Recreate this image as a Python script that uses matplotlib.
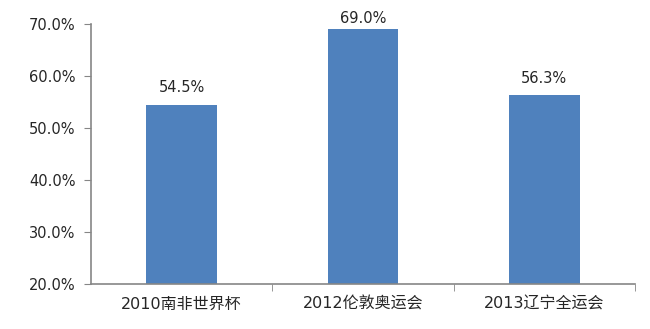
import matplotlib
matplotlib.use("Agg")
import matplotlib.pyplot as plt
from matplotlib.ticker import FuncFormatter, FixedLocator

plt.rcParams['font.family'] = ['DejaVu Sans', 'Noto Sans CJK SC']

categories = ["2010南非世界杯", "2012伦敦奥运会", "2013辽宁全运会"]
values = [54.5, 69.0, 56.3]
y_ticks = [20, 30, 40, 50, 60, 70]

BAR_COLOR = "#4F81BD"
AXIS_COLOR = "#868686"
TEXT_COLOR = "#262626"

fig = plt.figure(figsize=(6.5, 3.29), dpi=100)
ax = fig.add_axes([0.14, 0.137, 0.837, 0.79])

x = list(range(len(categories)))
bars = ax.bar(x, values, width=0.39, color=BAR_COLOR, zorder=2)

ax.set_ylim(20, 70)
ax.set_xlim(-0.5, len(categories) - 0.5)

for rect, v in zip(bars, values):
    # labels near the top of the plot area get pushed down to fit, like Excel does
    off = 7 if v < ax.get_ylim()[1] - 5 else 2
    ax.annotate(f"{v:.1f}%", (rect.get_x() + rect.get_width() / 2, rect.get_height()),
                xytext=(0, off), textcoords="offset points",
                ha="center", va="bottom", fontsize=10.5, color=TEXT_COLOR)

ax.set_yticks(y_ticks)
ax.yaxis.set_major_formatter(FuncFormatter(lambda v, p: f"{v:.1f}%"))

ax.set_xticks(x)
ax.set_xticklabels(categories)
ax.xaxis.set_minor_locator(FixedLocator([i + 0.5 for i in range(len(categories))]))
ax.tick_params(axis="x", which="major", length=0, pad=9, labelsize=11.5, labelcolor=TEXT_COLOR)
ax.tick_params(axis="x", which="minor", length=5, color=AXIS_COLOR, direction="out")
ax.tick_params(axis="y", length=5, color=AXIS_COLOR, direction="out", labelsize=10.5,
               labelcolor=TEXT_COLOR, pad=6)

for side in ("top", "right"):
    ax.spines[side].set_visible(False)
for side in ("left", "bottom"):
    ax.spines[side].set_color(AXIS_COLOR)
    ax.spines[side].set_linewidth(1.2)

fig.savefig("out.png", dpi=100, facecolor="white")
